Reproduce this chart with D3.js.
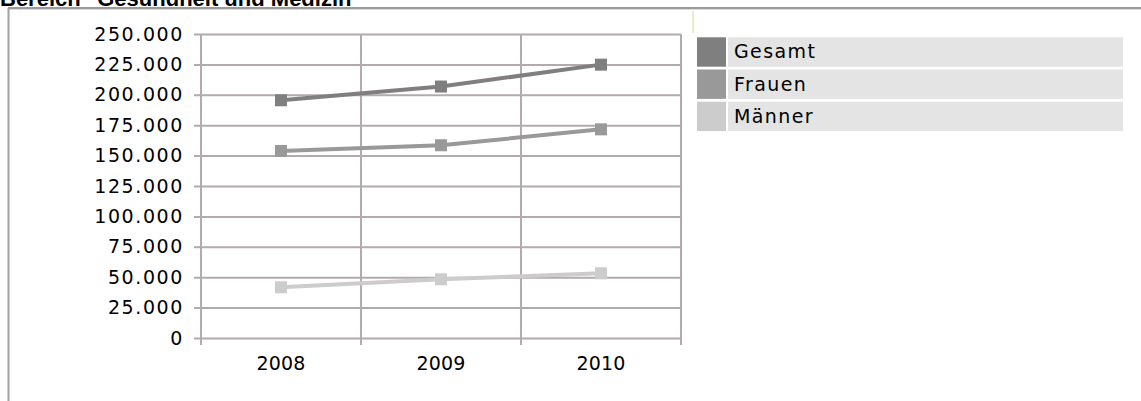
<!DOCTYPE html>
<html><head><meta charset="utf-8">
<script src="https://cdn.jsdelivr.net/npm/d3@7"></script>
<style>html,body{margin:0;padding:0;background:#fff;overflow:hidden}</style>
</head><body>
<svg id="c" width="1141" height="401"></svg>
<script>
const title = 'Bereich "Gesundheit und Medizin"';
const years = ["2008", "2009", "2010"];
const seriesNames = ["Gesamt", "Frauen", "Männer"];
const gesamt = [195500, 206800, 224800];
const frauen = [153800, 158500, 171600];
const maenner = [41700, 48300, 53200];
const yTicks = [0, 25000, 50000, 75000, 100000, 125000, 150000, 175000, 200000, 225000, 250000];
const colors = ["#7f7f7f", "#999999", "#cccccc"];

const seriesValues = [gesamt, frauen, maenner];
const FONT = "DejaVu Sans, Verdana, sans-serif";
const svg = d3.select("#c");

// outer frame
svg.append("line").attr("x1", 8).attr("x2", 1141).attr("y1", 8).attr("y2", 8)
  .attr("stroke", "#9a9a9a").attr("stroke-width", 2);
svg.append("line").attr("x1", 8).attr("x2", 1141).attr("y1", 9.5).attr("y2", 9.5)
  .attr("stroke", "#dcdcdc").attr("stroke-width", 1);
svg.append("line").attr("x1", 8.5).attr("x2", 8.5).attr("y1", 8).attr("y2", 401)
  .attr("stroke", "#a0a0a0").attr("stroke-width", 2);

// title (clipped at top, as in the reference)
svg.append("text").attr("x", 0).attr("y", 5.5)
  .attr("font-family", "Liberation Sans, Arial, sans-serif").attr("font-weight", "bold")
  .attr("font-size", 22).attr("fill", "#000").text(title);

const x = d3.scaleBand().domain(years).range([201, 681]).padding(0);
const y = d3.scaleLinear().domain([0, 250000]).range([338, 34]);
const gridColor = "#b3aaae";

// vertical gridlines at band boundaries
const bounds = years.map(d => x(d)).concat([x.range()[1]]);
svg.append("g").selectAll("line").data(bounds).join("line")
  .attr("x1", d => d).attr("x2", d => d)
  .attr("y1", y(250000)).attr("y2", y(0) + 7)
  .attr("stroke", gridColor).attr("stroke-width", 2);

// y axis with gridlines
const fmt = v => d3.format(",")(v).replace(/,/g, ".");
const yAxis = svg.append("g").attr("transform", "translate(201,0)")
  .call(d3.axisLeft(y).tickValues(yTicks).tickSizeInner(-480).tickSizeOuter(0).tickPadding(17).tickFormat(fmt));
yAxis.select(".domain").remove();
yAxis.selectAll(".tick line").attr("x1", -7).attr("stroke", gridColor).attr("stroke-width", 2);
yAxis.selectAll(".tick text").attr("font-family", FONT).attr("font-size", 19)
  .attr("letter-spacing", "1.6px").attr("fill", "#000");

// x labels
const xAxis = svg.append("g").attr("transform", "translate(0,338)")
  .call(d3.axisBottom(x).tickSize(0).tickPadding(32));
xAxis.select(".domain").remove();
xAxis.selectAll(".tick text").attr("font-family", FONT).attr("font-size", 19)
  .attr("fill", "#000").attr("dy", 0).attr("letter-spacing", "0.2px");

// series
const line = d3.line().x((d, i) => x(years[i]) + x.bandwidth() / 2).y(d => y(d));
seriesValues.forEach((vals, si) => {
  const g = svg.append("g");
  g.append("path").datum(vals).attr("d", line).attr("fill", "none")
    .attr("stroke", colors[si]).attr("stroke-width", 4);
  g.selectAll("rect").data(vals).join("rect")
    .attr("x", (d, i) => x(years[i]) + x.bandwidth() / 2 - 6)
    .attr("y", d => y(d) - 6).attr("width", 12).attr("height", 12)
    .attr("fill", colors[si]);
});

// small yellow line
svg.append("line").attr("x1", 693).attr("x2", 693).attr("y1", 11).attr("y2", 33)
  .attr("stroke", "#eee0b4").attr("stroke-width", 1.5);

// legend
const leg = svg.append("g");
seriesNames.forEach((name, i) => {
  const top = 37.3 + i * 32.2;
  leg.append("rect").attr("x", 697).attr("y", top).attr("width", 29).attr("height", 29.4).attr("fill", colors[i]);
  leg.append("rect").attr("x", 728).attr("y", top).attr("width", 395).attr("height", 29.4).attr("fill", "#e4e4e4");
  leg.append("text").attr("x", 734).attr("y", top + 21).attr("font-family", FONT)
    .attr("font-size", 19).attr("letter-spacing", "1.4px").attr("fill", "#000").text(name);
});
</script>
</body></html>
